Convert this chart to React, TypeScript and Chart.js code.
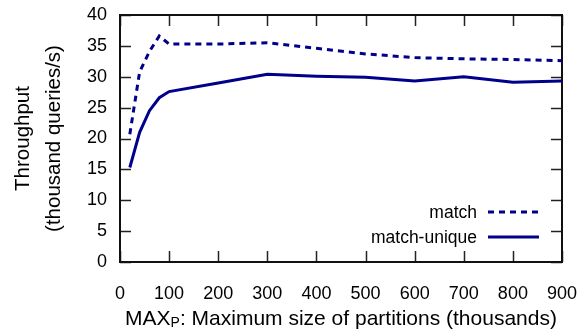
import React, { useEffect, useRef } from 'react';
import { Chart, registerables } from 'chart.js';

Chart.register(...registerables);

// ---- data ----
const xValues = [20, 40, 60, 80, 100, 200, 300, 400, 500, 600, 700, 800, 900];
const matchValues = [20.7, 30.8, 34.1, 36.6, 35.3, 35.3, 35.5, 34.6, 33.7, 33.1, 32.9, 32.8, 32.6];
const uniqueValues = [15.3, 21.0, 24.5, 26.6, 27.6, 29.0, 30.4, 30.1, 29.9, 29.3, 30.0, 29.1, 29.3];
const seriesLabels = ['match', 'match-unique'];
const yTitleLines = ['Throughput', '(thousand queries/s)'];
const xTitleMain = 'MAX';
const xTitleSub = 'P';
const xTitleRest = ': Maximum size of partitions (thousands)';

const FONT = '"Liberation Sans", Arial, Helvetica, sans-serif';
const LINE_COLOR = '#00008b';

const framePlugin = {
  id: 'frame',
  beforeDatasetsDraw(chart: any) {
    const { ctx, chartArea: a, scales } = chart;
    const x = scales.x;
    const y = scales.y;
    const tl = 11;
    ctx.save();
    ctx.strokeStyle = '#222';
    ctx.lineWidth = 1.5;
    ctx.beginPath();
    x.ticks.forEach((t: any) => {
      const px = Math.round(x.getPixelForValue(t.value)) + 0.5;
      ctx.moveTo(px, a.bottom);
      ctx.lineTo(px, a.bottom - tl);
      ctx.moveTo(px, a.top);
      ctx.lineTo(px, a.top + tl);
    });
    y.ticks.forEach((t: any) => {
      const py = Math.round(y.getPixelForValue(t.value)) + 0.5;
      ctx.moveTo(a.left, py);
      ctx.lineTo(a.left + tl, py);
      ctx.moveTo(a.right, py);
      ctx.lineTo(a.right - tl, py);
    });
    ctx.stroke();
    ctx.lineWidth = 2;
    ctx.strokeStyle = '#111';
    ctx.strokeRect(a.left, a.top, a.right - a.left, a.bottom - a.top);
    ctx.restore();
  },
  afterDraw(chart: any) {
    const { ctx, chartArea: a } = chart;
    ctx.save();
    ctx.fillStyle = '#000';
    // y title
    ctx.font = `20.5px ${FONT}`;
    ctx.textAlign = 'center';
    ctx.textBaseline = 'middle';
    const cy = (a.top + a.bottom) / 2;
    const xs = [23, 54];
    yTitleLines.forEach((line, i) => {
      ctx.save();
      ctx.translate(xs[i], cy);
      ctx.rotate(-Math.PI / 2);
      ctx.fillText(line, 0, 0);
      ctx.restore();
    });
    // x title with subscript
    const mainFont = `21px ${FONT}`;
    const subFont = `14px ${FONT}`;
    ctx.textBaseline = 'alphabetic';
    ctx.textAlign = 'left';
    ctx.font = mainFont;
    const w1 = ctx.measureText(xTitleMain).width;
    const w3 = ctx.measureText(xTitleRest).width;
    ctx.font = subFont;
    const w2 = ctx.measureText(xTitleSub).width;
    const total = w1 + w2 + w3;
    let sx = (a.left + a.right) / 2 - total / 2;
    const base = 325;
    ctx.font = mainFont;
    ctx.fillText(xTitleMain, sx, base);
    sx += w1;
    ctx.font = subFont;
    ctx.fillText(xTitleSub, sx, base + 2);
    sx += w2;
    ctx.font = mainFont;
    ctx.fillText(xTitleRest, sx, base);

    // legend
    ctx.font = `17.5px ${FONT}`;
    ctx.textAlign = 'right';
    ctx.textBaseline = 'middle';
    const rows = [213, 238];
    chart.data.datasets.forEach((ds: any, i: number) => {
      const yy = rows[i];
      ctx.fillStyle = '#000';
      ctx.fillText(ds.label, 477, yy);
      ctx.save();
      ctx.strokeStyle = ds.borderColor;
      ctx.lineWidth = ds.borderWidth;
      ctx.setLineDash(ds.borderDash || []);
      ctx.beginPath();
      ctx.moveTo(488, yy - 1);
      ctx.lineTo(539, yy - 1);
      ctx.stroke();
      ctx.restore();
    });
    ctx.restore();
  },
};

export default function App() {
  const ref = useRef<HTMLCanvasElement | null>(null);
  useEffect(() => {
    if (!ref.current) return;
    const chart = new Chart(ref.current, {
      type: 'line',
      data: {
        datasets: [
          {
            label: seriesLabels[0],
            data: xValues.map((x, i) => ({ x, y: matchValues[i] })),
            borderColor: LINE_COLOR,
            borderWidth: 3,
            borderDash: [6, 5],
            pointRadius: 0,
            tension: 0,
            fill: false,
          },
          {
            label: seriesLabels[1],
            data: xValues.map((x, i) => ({ x, y: uniqueValues[i] })),
            borderColor: LINE_COLOR,
            borderWidth: 3,
            pointRadius: 0,
            tension: 0,
            fill: false,
          },
        ],
      },
      options: {
        animation: false,
        responsive: true,
        maintainAspectRatio: false,
        layout: { padding: { left: 0, right: 23, top: 15, bottom: 0 } },
        plugins: { legend: { display: false }, tooltip: { enabled: false } },
        scales: {
          x: {
            type: 'linear',
            min: 0,
            max: 900,
            grid: { display: false, drawTicks: false },
            border: { display: false },
            ticks: {
              stepSize: 100,
              padding: 21,
              color: '#000',
              maxRotation: 0,
              font: { family: FONT, size: 18 },
            },
            afterFit(s: any) {
              s.height = 72;
              s.paddingLeft = 0;
              s.paddingRight = 0;
            },
          },
          y: {
            min: 0,
            max: 40,
            grid: { display: false, drawTicks: false },
            border: { display: false },
            ticks: {
              stepSize: 5,
              padding: 13,
              color: '#000',
              font: { family: FONT, size: 18 },
            },
            afterFit(s: any) {
              s.width = 120;
              s.paddingTop = 0;
              s.paddingBottom = 0;
            },
          },
        },
      },
      plugins: [framePlugin],
    });
    return () => chart.destroy();
  }, []);
  return (
    <div style={{ position: 'fixed', left: 0, top: 0, width: 585, height: 334 }}>
      <canvas ref={ref} />
    </div>
  );
}
